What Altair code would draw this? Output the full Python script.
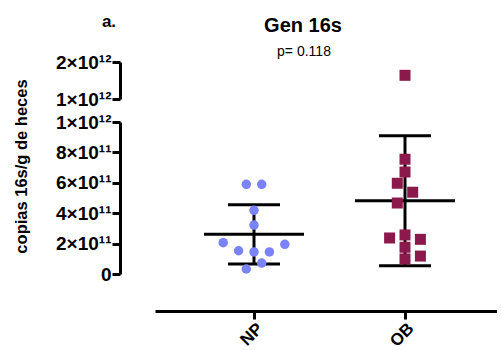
import altair as alt
import numpy as np
import pandas as pd

# ---- data -------------------------------------------------------------
groups = ["NP", "OB"]
np_values = [5.9e11, 5.9e11, 4.19e11, 3.22e11, 1.95e11, 2.06e11,
             1.45e11, 1.45e11, 1.53e11, 0.72e11, 0.33e11]
ob_values = [1.64e12, 7.55e11, 6.71e11, 5.97e11, 5.38e11, 4.67e11,
             2.37e11, 1.76e11, 2.28e11, 2.57e11, 0.99e11, 1.18e11]

lower_ticks = [0, 2e11, 4e11, 6e11, 8e11, 1e12]
lower_labels = ["0", "2×10¹¹", "4×10¹¹", "6×10¹¹", "8×10¹¹", "1×10¹²"]
upper_ticks = [1e12, 2e12]
upper_labels = ["1×10¹²", "2×10¹²"]

chart_title = "Gen 16s"
p_value_text = "p= 0.118"
panel_tag = "a."
y_title = "copias 16s/g de heces"

# ---- layout constants --------------------------------------------------
FONT = "Liberation Sans"
BREAK = 1e12          # where the y axis is split
TOP_MAX = 2e12
PLOT_W = 342
LOW_H = 152           # 0 .. 1e12
UP_H = 37             # 1e12 .. 2e12
GAP = 23
GROUP_PX = 151        # distance between group centres
FIRST_PX = 99         # first group centre from the plot's left edge
STEP_PX = 7.7         # horizontal swarm step
COLORS = {"NP": "#7b83fa", "OB": "#8c194b"}
MARK_PX = {"NP": 10.7, "OB": 11.0}


def display_px(v):
    """Vertical position in screen pixels across the broken axis."""
    if v <= BREAK:
        return v * LOW_H / BREAK
    return LOW_H + GAP + (v - BREAK) * UP_H / (TOP_MAX - BREAK)


def swarm_slots(values, size_px):
    """Greedy beeswarm: each point takes the slot nearest the centre that
    does not overlap points already placed; overlapping clusters are then
    re-centred on the group axis."""
    ypx = [display_px(v) for v in values]
    order = sorted(range(len(values)), key=lambda i: values[i])
    cands = [0]
    for s in range(1, 30):
        cands += [s, -s]
    slot = {}
    for i in order:
        for c in cands:
            if all(abs(c - slot[j]) >= 2 or abs(ypx[i] - ypx[j]) >= size_px
                   for j in slot):
                slot[i] = c
                break
    parent = list(range(len(values)))

    def find(a):
        while parent[a] != a:
            a = parent[a]
        return a

    for i in range(len(values)):
        for j in range(i + 1, len(values)):
            if abs(ypx[i] - ypx[j]) < size_px:
                parent[find(i)] = find(j)
    clusters = {}
    for i in range(len(values)):
        clusters.setdefault(find(i), []).append(i)
    for members in clusters.values():
        if len(members) > 1:
            shift = int(np.floor(np.mean([slot[m] for m in members]) + 0.5))
            for m in members:
                slot[m] -= shift
    return [slot[i] for i in range(len(values))]


rows = []
stats = []
for gi, (g, vals) in enumerate(zip(groups, [np_values, ob_values])):
    slots = swarm_slots(vals, MARK_PX[g])
    for v, s in zip(vals, slots):
        rows.append({"group": g, "value": v,
                     "xpos": gi + s * STEP_PX / GROUP_PX})
    arr = np.array(vals)
    m, sd = arr.mean(), arr.std(ddof=1)
    stats.append({"group": g, "gi": gi, "mean": m, "lo": m - sd, "hi": m + sd})

points = pd.DataFrame(rows)
stats = pd.DataFrame(stats)

# half widths (group units) of the mean line and the SD caps
MEAN_HALF = 50 / GROUP_PX
CAP_HALF = 26 / GROUP_PX
stats["m0"] = stats["gi"] - MEAN_HALF
stats["m1"] = stats["gi"] + MEAN_HALF
stats["c0"] = stats["gi"] - CAP_HALF
stats["c1"] = stats["gi"] + CAP_HALF

x_domain = [-FIRST_PX / GROUP_PX, (PLOT_W - FIRST_PX) / GROUP_PX]


def label_expr(ticks, labels):
    expr = "''"
    for t, lab in zip(reversed(ticks), reversed(labels)):
        expr = f"abs(datum.value - {float(t)!r}) < 1 ? '{lab}' : ({expr})"
    return expr


group_expr = " : ".join(
    [f"datum.value == {i} ? '{g}'" for i, g in enumerate(groups)] + ["''"])

axis_style = dict(
    domainColor="black", domainWidth=3, tickColor="black", tickWidth=3,
    tickSize=8, labelFont=FONT, labelFontWeight="bold", labelFontSize=19,
    labelColor="black", grid=False, labelPadding=1, labelOverlap=False,
    labelFlush=False,
)

x_scale = alt.Scale(domain=x_domain, nice=False, zero=False)
x_axis = alt.Axis(values=[0, 1], labelExpr=group_expr, title=None,
                  offset=37, labelAngle=-45, **{**axis_style, "labelFontSize": 17})


def point_layer(data, y_field_enc, x_ax):
    base = alt.Chart(data)
    circles = base.transform_filter(alt.datum.group == "NP").mark_point(
        shape="circle", filled=True, opacity=1, size=90, color=COLORS["NP"]
    ).encode(x=alt.X("xpos:Q", scale=x_scale, axis=x_ax), y=y_field_enc("value"))
    squares = base.transform_filter(alt.datum.group == "OB").mark_point(
        shape="square", filled=True, opacity=1, size=121, color=COLORS["OB"]
    ).encode(x=alt.X("xpos:Q", scale=x_scale, axis=x_ax), y=y_field_enc("value"))
    return circles + squares


def text_layer(text, size, weight, x, y):
    return alt.Chart(pd.DataFrame({"t": [text]})).mark_text(
        font=FONT, fontSize=size, fontWeight=weight, color="black",
        align="center", baseline="alphabetic",
    ).encode(text="t:N", x=alt.value(x), y=alt.value(y))


# ---- upper panel (1e12 .. 2e12) ----------------------------------------
up_axis = alt.Axis(values=upper_ticks, labelExpr=label_expr(upper_ticks, upper_labels),
                   title=None, offset=35, **axis_style)
up_scale = alt.Scale(domain=[BREAK, TOP_MAX], nice=False, zero=False)


def up_y(field):
    return alt.Y(f"{field}:Q", scale=up_scale, axis=up_axis)


upper_pts = point_layer(points[points["value"] > BREAK], up_y, None)

upper = alt.layer(
    upper_pts,
    text_layer(chart_title, 20, "bold", 148, -30),
    text_layer(p_value_text, 14, "normal", 149, -6),
    text_layer(panel_tag, 17, "bold", -46, -35),
).properties(width=PLOT_W, height=UP_H)

# ---- lower panel (0 .. 1e12) -------------------------------------------
low_scale = alt.Scale(domain=[0, BREAK], nice=False, zero=False)
low_axis = alt.Axis(values=lower_ticks, labelExpr=label_expr(lower_ticks, lower_labels),
                    title=y_title, titleFont=FONT, titleFontSize=16.5,
                    titleFontWeight="bold", titleColor="black",
                    titleX=-91, titleY=44, titleAngle=-90,
                    offset=35, **axis_style)


def low_y(field):
    return alt.Y(f"{field}:Q", scale=low_scale, axis=low_axis)


def gx(field):
    return alt.X(f"{field}:Q", scale=x_scale, axis=x_axis)


sbase = alt.Chart(stats)
rule_style = dict(color="black", strokeWidth=3)
mean_rule = sbase.mark_rule(**rule_style).encode(x=gx("m0"), x2="m1:Q", y=low_y("mean"))
cap_hi = sbase.mark_rule(**rule_style).encode(x=gx("c0"), x2="c1:Q", y=low_y("hi"))
cap_lo = sbase.mark_rule(**rule_style).encode(x=gx("c0"), x2="c1:Q", y=low_y("lo"))
stem = sbase.mark_rule(**rule_style).encode(x=gx("gi"), y=low_y("lo"), y2="hi:Q")

lower_pts = point_layer(points[points["value"] <= BREAK], low_y, x_axis)

lower = alt.layer(mean_rule, cap_hi, cap_lo, stem, lower_pts).properties(
    width=PLOT_W, height=LOW_H)

chart = alt.vconcat(upper, lower, spacing=GAP, bounds="flush").configure_view(
    stroke=None
).properties(padding={"left": 13, "top": 13, "right": 0, "bottom": 0},
             background="white")

chart.save("out.html", embed_options={"renderer": "svg", "actions": False})
